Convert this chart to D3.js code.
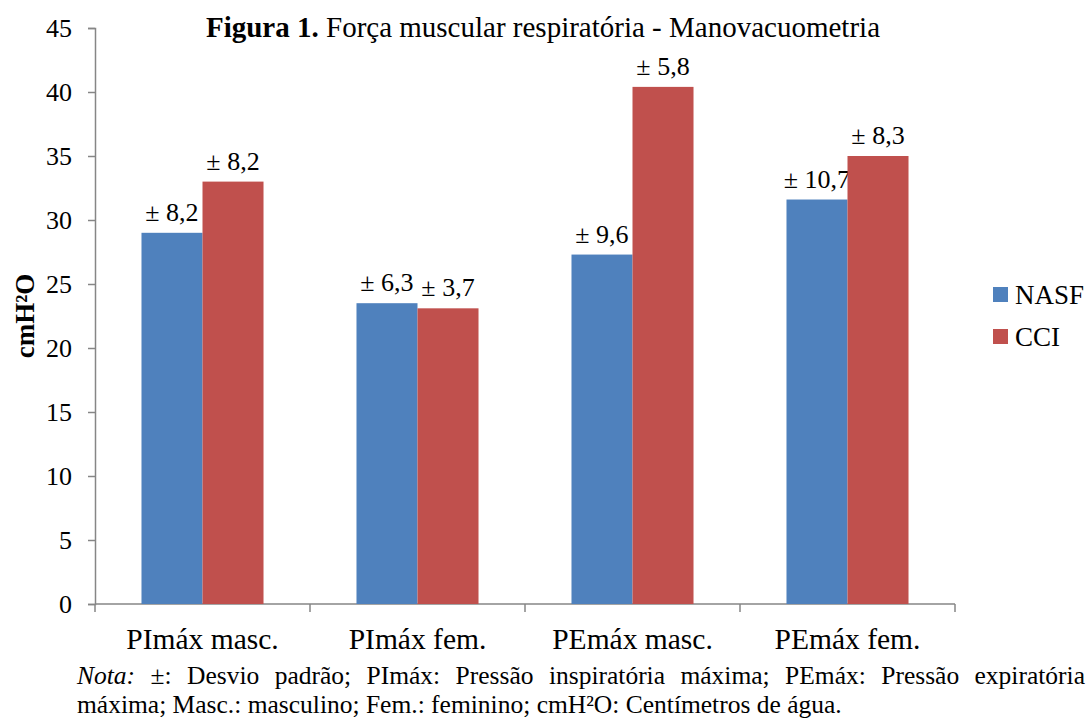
<!DOCTYPE html>
<html><head><meta charset="utf-8">
<script src="https://cdn.jsdelivr.net/npm/d3@7"></script>
<style>body{margin:0;background:#fff}svg{display:block}text{font-family:"Liberation Serif","Times New Roman",serif;fill:#000}</style>
</head><body><svg id="c" width="1090" height="718"></svg>
<script>
const categories = ["PImáx masc.", "PImáx fem.", "PEmáx masc.", "PEmáx fem."];
const seriesNames = ["NASF", "CCI"];
const nasfValues = [29.0, 23.5, 27.3, 31.6];
const cciValues = [33.0, 23.1, 40.4, 35.0];
const nasfSD = ["± 8,2", "± 6,3", "± 9,6", "± 10,7"];
const cciSD = ["± 8,2", "± 3,7", "± 5,8", "± 8,3"];
const yTicks = [0, 5, 10, 15, 20, 25, 30, 35, 40, 45];
const colors = ["#4F81BD", "#C0504D"];

const svg = d3.select("#c");
const L = 95, R = 955, T = 28, B = 604;
const x = d3.scaleBand().domain(categories).range([L, R]).padding(0);
const xs = d3.scaleBand().domain(seriesNames).range([0, x.bandwidth()]).paddingInner(0).paddingOuter(0.762);
const y = d3.scaleLinear().domain([0, 45]).range([B, T]);

// y axis
const ya = svg.append("g").attr("transform", `translate(${L},0)`)
  .call(d3.axisLeft(y).tickValues(yTicks).tickSize(7).tickPadding(16));
ya.select(".domain").attr("stroke", "#868686").attr("stroke-width", 1.5);
ya.selectAll(".tick line").attr("stroke", "#868686").attr("stroke-width", 1.5);
ya.selectAll(".tick text").style("font-size", "26px").attr("fill", "#000");

// x axis
const xa = svg.append("g").attr("transform", `translate(0,${B})`)
  .call(d3.axisBottom(x).tickSize(0).tickPadding(0));
xa.select(".domain").remove();
xa.selectAll(".tick text").style("font-size", "29.5px").attr("fill", "#000").attr("dy", null).attr("y", 45);
xa.append("line").attr("x1", L).attr("x2", R).attr("stroke", "#868686").attr("stroke-width", 1.5);
const bounds = categories.map(c => x(c)).concat([R]);
xa.selectAll(".bt").data(bounds).enter().append("line")
  .attr("x1", d => d).attr("x2", d => d).attr("y1", 0).attr("y2", 8)
  .attr("stroke", "#868686").attr("stroke-width", 1.5);

// bars
const seriesData = [nasfValues, cciValues];
const sdData = [nasfSD, cciSD];
seriesNames.forEach((s, si) => {
  const g = svg.append("g");
  g.selectAll("rect").data(categories).enter().append("rect")
    .attr("x", c => x(c) + xs(s))
    .attr("width", xs.bandwidth())
    .attr("y", (c, i) => y(seriesData[si][i]))
    .attr("height", (c, i) => B - y(seriesData[si][i]))
    .attr("fill", colors[si]);
  g.selectAll("text").data(categories).enter().append("text")
    .attr("x", c => x(c) + xs(s) + xs.bandwidth() / 2)
    .attr("y", (c, i) => y(seriesData[si][i]) - 12)
    .attr("text-anchor", "middle")
    .style("font-size", "26px")
    .text((c, i) => sdData[si][i]);
});

// title
const title = svg.append("text").attr("x", 543).attr("y", 37).attr("text-anchor", "middle").style("font-size", "29px");
title.append("tspan").attr("font-weight", "bold").text("Figura 1.");
title.append("tspan").text(" Força muscular respiratória - Manovacuometria");

// y label
svg.append("text").attr("transform", "translate(34,316) rotate(-90)").attr("text-anchor", "middle")
  .style("font-size", "27px").attr("font-weight", "bold").text("cmH²O");

// legend
const lg = svg.append("g");
seriesNames.forEach((s, i) => {
  lg.append("rect").attr("x", 993).attr("y", 287 + i * 42).attr("width", 15).attr("height", 15).attr("fill", colors[i]);
  lg.append("text").attr("x", 1015).attr("y", 304 + i * 42).style("font-size", "27px").text(s);
});

// note (justified first line)
const line1 = [["Nota:", true], ["±:", false], ["Desvio", false], ["padrão;", false], ["PImáx:", false], ["Pressão", false], ["inspiratória", false], ["máxima;", false], ["PEmáx:", false], ["Pressão", false], ["expiratória", false]];
const nx0 = 77, nx1 = 1085;
const noteG = svg.append("g");
const tmp = [];
line1.forEach(([w, it]) => {
  const t = noteG.append("text").attr("y", 684).style("font-size", "25.5px").style("font-style", it ? "italic" : "normal").text(w);
  tmp.push(t);
});
const widths = tmp.map(t => t.node().getComputedTextLength());
const gap = (nx1 - nx0 - d3.sum(widths)) / (tmp.length - 1);
let cx = nx0;
tmp.forEach((t, i) => { t.attr("x", cx); cx += widths[i] + gap; });
noteG.append("text").attr("x", nx0).attr("y", 713).style("font-size", "25.5px")
  .text("máxima; Masc.: masculino; Fem.: feminino; cmH²O: Centímetros de água.");
</script></body></html>
